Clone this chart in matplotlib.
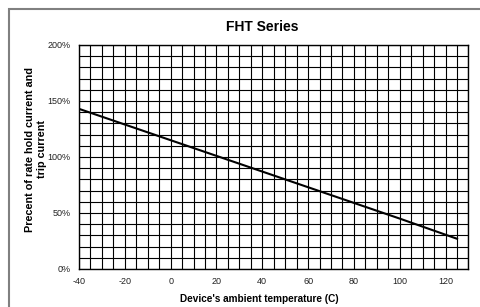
import matplotlib
matplotlib.use("Agg")
import matplotlib.pyplot as plt
from matplotlib.patches import Rectangle
import numpy as np

temps = [-40, -20, 0, 20, 25, 40, 60, 85, 100, 125]
percent = [143, 129, 115, 101, 97.5, 87, 73, 55.5, 45, 27]
x_tick_labels = [-40, -20, 0, 20, 40, 60, 80, 100, 120]
y_tick_labels = ["0%", "50%", "100%", "150%", "200%"]

plt.rcParams['font.family'] = ['Liberation Sans', 'DejaVu Sans']

W, H = 481, 307
fig = plt.figure(figsize=(W/100, H/100), dpi=100)
fig.patches.append(Rectangle((9/W, -0.1), 1.2, 1 - 9/H + 0.1, transform=fig.transFigure,
                             fill=False, edgecolor='#808080', linewidth=1.5))

ax = fig.add_axes([79/W, 1 - 269/H, (468.5-79)/W, (269-45)/H])
ax.plot(temps, percent, color='black', linewidth=1.5, zorder=3)
ax.set_xlim(-40, 130)
ax.set_ylim(0, 200)
ax.set_xticks(np.arange(-40, 131, 5), minor=True)
ax.set_yticks(np.arange(0, 201, 10), minor=True)
ax.set_xticks(x_tick_labels)
ax.set_xticklabels([str(v) for v in x_tick_labels])
ax.set_yticks([0, 50, 100, 150, 200])
ax.set_yticklabels(y_tick_labels)
ax.grid(True, which='both', color='black', linewidth=0.8)
ax.tick_params(which='both', length=0, labelsize=6.5, pad=6, labelcolor='#222222')
for s in ax.spines.values():
    s.set_linewidth(1.0)
    s.set_color('black')

fig.text(262/W, 1 - 27/H, "FHT Series", ha='center', va='center', fontsize=10, fontweight='bold')
fig.text(259/W, 1 - 299/H, "Device's ambient temperature (C)", ha='center', va='center',
         fontsize=7.2, fontweight='bold')
fig.text(36/W, 1 - 149.5/H, "Precent of rate hold current and\ntrip current", ha='center', va='center',
         rotation=90, fontsize=7.8, fontweight='bold', multialignment='center', linespacing=1.3)

fig.savefig("out.png", dpi=100)
